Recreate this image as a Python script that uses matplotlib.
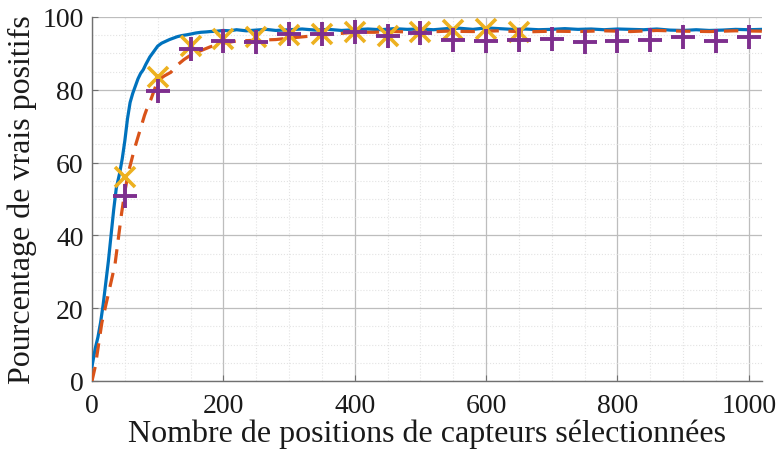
import matplotlib
matplotlib.use("Agg")
import matplotlib.pyplot as plt
from matplotlib.ticker import MultipleLocator

plt.rcParams["font.family"] = ["Liberation Serif", "DejaVu Serif"]

# blue curve (solid)
blue_x = [0, 2, 5, 9, 13, 17, 21, 25, 29, 33, 37, 42, 46, 50, 54, 58, 62, 66, 70, 74,
          78, 82, 88, 94, 100, 106, 112, 118, 124, 130, 137, 144, 150, 158, 166, 174, 180,
          190, 200, 210, 220, 235, 250, 265, 280, 300, 320, 340, 360, 380, 400, 420, 440,
          460, 480, 500, 520, 540, 560, 580, 600, 620, 640, 660, 680, 700, 720, 740, 760,
          780, 800, 820, 840, 860, 880, 900, 920, 940, 960, 980, 1000, 1020]
blue_y = [4, 6, 9, 12, 16, 21, 27, 33, 40, 47, 53, 57, 61, 66, 72, 76.5, 79, 81, 83, 84.5,
          85.5, 87, 89, 90.5, 92, 92.8, 93.3, 93.8, 94.2, 94.6, 94.9, 95.1, 95.3, 95.6, 95.8, 95.9, 96.0,
          96.1, 96.3, 96.2, 96.5, 96.2, 96.4, 96.6, 96.3, 96.5, 96.7, 96.4, 96.6, 96.3, 96.5, 96.7, 96.5,
          96.8, 96.6, 96.7, 96.5, 96.8, 96.9, 96.6, 97.0, 96.8, 96.6, 96.7, 96.5, 96.6, 96.8, 96.6, 96.7,
          96.5, 96.7, 96.6, 96.5, 96.7, 96.4, 96.3, 96.5, 96.3, 96.4, 96.6, 96.5, 96.6]

# orange curve (dashed)
orange_x = [0, 5, 10, 15, 20, 25, 30, 35, 40, 45, 50, 55, 60, 65, 70, 75, 80, 85, 90, 95,
            100, 110, 120, 130, 140, 150, 165, 180, 200, 220, 250, 280, 300, 330, 350, 380, 400,
            430, 460, 500, 540, 580, 620, 660, 700, 740, 780, 820, 860, 900, 940, 980, 1020]
orange_y = [0, 4, 10, 16, 20, 24, 28, 32, 39, 46, 52, 57, 60.5, 64, 67, 70, 73, 75.5, 77.5, 80,
            82.5, 83.8, 84.8, 86.8, 88.3, 89.5, 90.7, 91.8, 92.8, 93.4, 93.6, 93.8, 94.2, 94.7, 95.0, 95.5, 95.8,
            95.8, 96.0, 95.8, 96.1, 96.0, 96.2, 95.9, 96.1, 96.0, 96.2, 96.0, 96.3, 96.1, 96.0, 96.2, 96.1]

# yellow 'x' markers
cross_x = [50, 100, 150, 200, 250, 300, 350, 400, 450, 500, 550, 600, 650]
cross_y = [56.0, 83.4, 92.1, 94.0, 94.4, 95.1, 95.3, 95.8, 94.9, 95.9, 96.4, 96.6, 96.0]

# purple '+' markers
plus_x = [50, 100, 150, 200, 250, 300, 350, 400, 450, 500, 550, 600, 650, 700, 750, 800,
          850, 900, 950, 1000]
plus_y = [50.9, 79.8, 91.2, 93.3, 93.0, 95.3, 95.3, 95.9, 94.9, 95.6, 93.8, 93.5, 93.8, 94.0,
          93.0, 93.3, 93.8, 94.4, 93.3, 94.4]

fig = plt.figure(figsize=(7.79, 4.60), dpi=100)
ax = fig.add_axes([0.1181, 0.1696, 0.8599, 0.7913])

ax.plot(blue_x, blue_y, color="#0072BD", linewidth=2.3, zorder=3)
ax.plot(orange_x, orange_y, color="#D95319", linewidth=2.3, linestyle=(0, (4.5, 3)), zorder=3)
ax.plot(cross_x, cross_y, linestyle="none", marker="x", color="#EDB120",
        markersize=14, markeredgewidth=2.6, zorder=4)
ax.plot(plus_x, plus_y, linestyle="none", marker="+", color="#7E2F8E",
        markersize=17, markeredgewidth=2.8, zorder=5)

ax.set_xlim(0, 1020)
ax.set_ylim(0, 100)
ax.xaxis.set_major_locator(MultipleLocator(200))
ax.xaxis.set_minor_locator(MultipleLocator(50))
ax.yaxis.set_major_locator(MultipleLocator(20))
ax.yaxis.set_minor_locator(MultipleLocator(5))

ax.grid(True, which="major", color="#bdbdbd", linewidth=0.9)
ax.grid(True, which="minor", color="#e3e3e3", linestyle=":", linewidth=0.8)
ax.set_axisbelow(True)

for side in ["top", "right"]:
    ax.spines[side].set_visible(False)
for side in ["left", "bottom"]:
    ax.spines[side].set_color("#707070")
    ax.spines[side].set_linewidth(1.0)

ax.tick_params(which="both", direction="in", colors="#707070", labelcolor="#1a1a1a", labelsize=20)
ax.tick_params(which="major", length=4)
ax.tick_params(which="minor", length=0)
ax.tick_params(axis="x", pad=9)
ax.tick_params(axis="y", pad=6)

ax.set_xlabel("Nombre de positions de capteurs sélectionnées", fontsize=23, color="#1a1a1a", labelpad=0)
ax.set_ylabel("Pourcentage de vrais positifs", fontsize=23, color="#1a1a1a", labelpad=4)

fig.savefig("out.png", dpi=100)
